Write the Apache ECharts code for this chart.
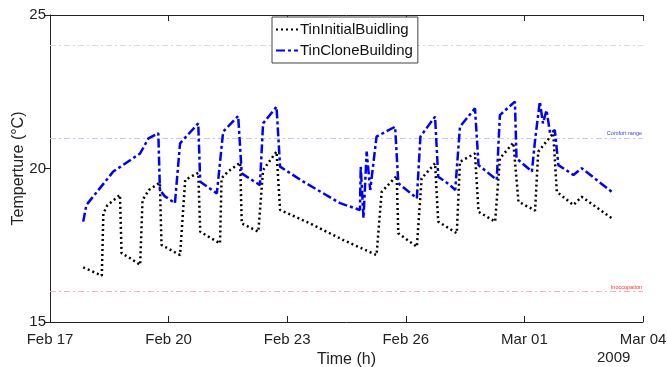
<!DOCTYPE html>
<html>
<head>
<meta charset="utf-8">
<script src="https://cdn.jsdelivr.net/npm/echarts@6/dist/echarts.min.js"></script>
<style>
  html, body { margin: 0; padding: 0; background: #fff; }
  #main { width: 667px; height: 367px; }
</style>
</head>
<body>
<div id="main"></div>
<script>
// time in days after Feb 17 2009 00:00
var tickLabels = ['Feb 17', 'Feb 20', 'Feb 23', 'Feb 26', 'Mar 01', 'Mar 04'];

var initialDays = [0.84, 1.31, 1.35, 1.45, 1.77, 1.81, 2.0, 2.28, 2.34, 2.5, 2.78, 2.82, 3.29, 3.42, 3.75,
  3.80, 4.30, 4.34, 4.5, 4.81, 4.85, 5.27, 5.39, 5.73, 5.82, 6.58, 7.42, 8.26, 8.39, 8.77, 8.81, 9.28,
  9.40, 9.74, 9.82, 10.29, 10.37, 10.75, 10.84, 11.26, 11.38, 11.72, 11.85, 12.27, 12.35, 12.73, 12.82,
  13.24, 13.45, 14.21];
var initialTemp = [16.78, 16.51, 18.54, 18.8, 19.14, 17.24, 17.1, 16.86, 18.97, 19.3, 19.54, 17.51, 17.18, 19.63, 19.86,
  17.94, 17.56, 19.68, 19.9, 20.19, 18.21, 17.94, 19.95, 20.55, 18.65, 18.21, 17.67, 17.18, 19.24, 19.76, 17.89, 17.45,
  19.68, 20.17, 18.27, 17.89, 20.22, 20.49, 18.59, 18.27, 20.33, 20.84, 18.92, 18.63, 20.55, 21.15, 19.24,
  18.81, 19.08, 18.38];

var cloneDays = [0.84, 0.92, 1.6, 2.28, 2.49, 2.74, 2.78, 2.9, 3.16, 3.29, 3.75, 3.80, 4.22, 4.38, 4.76,
  4.85, 5.31, 5.39, 5.73, 5.82, 6.41, 7.34, 7.84, 7.86, 7.93, 8.01, 8.10, 8.26, 8.73, 8.81, 9.28,
  9.37, 9.74, 9.82, 10.12, 10.25, 10.37, 10.75, 10.84, 11.3, 11.38, 11.76, 11.80, 12.19, 12.27, 12.39,
  12.47, 12.56, 12.65, 12.77, 12.86, 13.24, 13.45, 14.21];
var cloneTemp = [18.27, 18.81, 19.9, 20.49, 20.98, 21.15, 19.30, 19.1, 18.87, 20.82, 21.47, 19.57, 19.19, 21.2, 21.71,
  19.84, 19.46, 21.47, 22.01, 20.06, 19.57, 18.87, 18.65, 20.06, 18.38, 20.55, 19.30, 21.04, 21.36, 19.52, 19.03,
  21.04, 21.69, 19.73, 19.46, 19.30, 21.36, 21.96, 20.11, 19.63, 21.74, 22.18, 20.33, 19.90, 20.93, 22.18,
  21.47, 21.9, 21.15, 21.25, 20.11, 19.79, 20.01, 19.24];

function pairs(xs, ys) {
  var out = [];
  for (var i = 0; i < xs.length; i++) out.push([xs[i], ys[i]]);
  return out;
}

var FONT = 'Liberation Sans';
var myChart = echarts.init(document.getElementById('main'));

var Options = {
  animation: false,
  textStyle: { fontFamily: FONT },
  grid: { left: 50, top: 15, width: 593, height: 307, outerBoundsMode: 'none' },
  legend: {
    orient: 'vertical',
    left: 272,
    top: 17,
    padding: [5, 5, 5, 3],
    itemGap: 6,
    itemWidth: 22,
    itemHeight: 12,
    borderColor: '#444',
    borderWidth: 1,
    backgroundColor: '#fff',
    itemStyle: { opacity: 0 },
    textStyle: { fontFamily: FONT, fontSize: 15, color: '#111', padding: [0, 0, 0, -3] },
    data: ['TinInitialBuidling', 'TinCloneBuilding']
  },
  xAxis: [{
    type: 'value',
    min: 0, max: 15, interval: 3,
    name: 'Time (h)',
    nameLocation: 'middle',
    nameGap: 28,
    nameTextStyle: { fontFamily: FONT, fontSize: 16, color: '#222' },
    axisLine: { lineStyle: { color: '#222', width: 1 } },
    axisTick: { inside: true, length: 6, lineStyle: { color: '#222' } },
    axisLabel: {
      fontFamily: FONT, fontSize: 15, color: '#222', margin: 10,
      formatter: function(v) { return tickLabels[Math.round(v / 3)]; }
    },
    splitLine: { show: false }
  }, {
    type: 'value',
    position: 'top',
    min: 0, max: 15, interval: 3,
    axisLine: { lineStyle: { color: '#222', width: 1 } },
    axisTick: { inside: true, length: 6, lineStyle: { color: '#222' } },
    axisLabel: { show: false },
    splitLine: { show: false }
  }],
  yAxis: [{
    type: 'value',
    min: 15, max: 25, interval: 5,
    name: 'Temperture (°C)',
    nameLocation: 'middle',
    nameGap: 23,
    nameMoveOverlap: false,
    nameTextStyle: { fontFamily: FONT, fontSize: 16, color: '#222' },
    axisLine: { show: true, lineStyle: { color: '#bbb', width: 1 } },
    axisTick: { show: true, inside: false, length: 5, lineStyle: { color: '#222' } },
    axisLabel: { fontFamily: FONT, fontSize: 15, color: '#222', margin: 4 },
    splitLine: { show: false }
  }, {
    type: 'value',
    position: 'right',
    min: 15, max: 25, interval: 5,
    axisLine: { show: true, lineStyle: { color: '#222', width: 1 } },
    axisTick: { show: true, inside: true, length: 6, lineStyle: { color: '#222' } },
    axisLabel: { show: false },
    splitLine: { show: false }
  }],
  series: [{
    name: 'TinInitialBuidling',
    type: 'line',
    symbol: 'none',
    color: '#000',
    lineStyle: { color: '#000', width: 2.5, type: [2, 3] },
    data: pairs(initialDays, initialTemp),
    z: 3
  }, {
    name: 'TinCloneBuilding',
    type: 'line',
    symbol: 'none',
    color: '#0000ff',
    lineStyle: { color: '#0000ff', width: 2.5, type: [9, 3, 3, 3] },
    data: pairs(cloneDays, cloneTemp),
    z: 4,
    markLine: {
      silent: true,
      symbol: 'none',
      z: 1,
      data: [{
        yAxis: 24,
        lineStyle: { color: '#d8d8e8', width: 1, type: [6, 3, 2, 3] },
        label: { show: false }
      }, {
        yAxis: 21,
        lineStyle: { color: '#c8c8f4', width: 1, type: [6, 3, 2, 3] },
        label: { show: true, position: 'insideEndTop', formatter: 'Comfort range', fontSize: 5.5, color: '#3a3aff', distance: 1 }
      }, {
        yAxis: 16,
        lineStyle: { color: '#f8b0bc', width: 1, type: [6, 3, 2, 3] },
        label: { show: true, position: 'insideEndTop', formatter: 'Inoccupation', fontSize: 5.5, color: '#ff3030', distance: 1 }
      }]
    }
  }],
  graphic: [{
    type: 'text',
    left: 597,
    top: 350,
    style: { text: '2009', fontFamily: FONT, fontSize: 15, fill: '#222' }
  }]
};

myChart.setOption(Options);
</script>
</body>
</html>
